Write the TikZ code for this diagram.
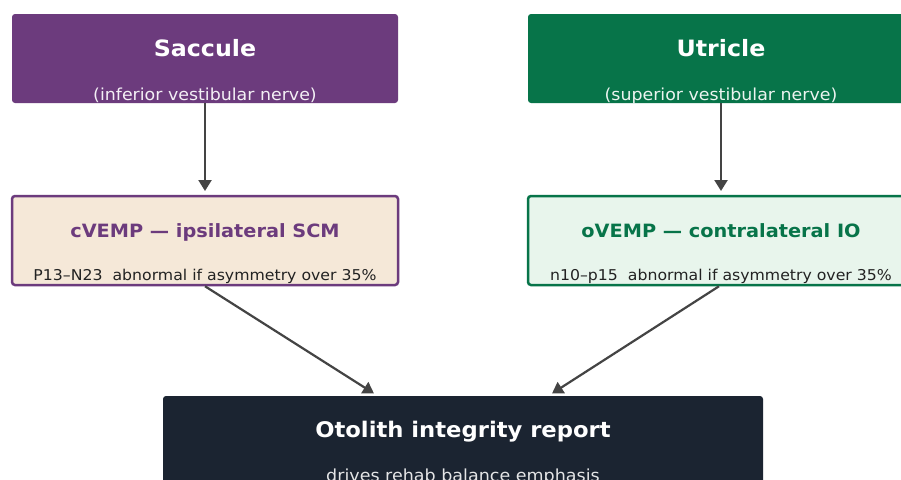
\documentclass[tikz,border=0pt]{standalone}
\usepackage{fontspec}
\setmainfont{DejaVu Sans}[FakeStretch=1.055]
\usetikzlibrary{arrows.meta}
\definecolor{saccfill}{HTML}{6C3B7D}
\definecolor{utrfill}{HTML}{077449}
\definecolor{sacclight}{HTML}{F5E8D8}
\definecolor{utrlight}{HTML}{E8F5EC}
\definecolor{reportfill}{HTML}{1B2431}
\definecolor{arrowgray}{HTML}{444444}
\definecolor{bodytext}{HTML}{222222}
\tikzset{
  panel/.style={rectangle, rounded corners=3pt, minimum width=386pt, minimum height=89pt, inner sep=0pt},
  headline/.style={anchor=base, inner sep=0pt, font=\fontsize{22.5}{26}\selectfont\bfseries},
  subline/.style={anchor=base, inner sep=0pt, font=\fontsize{16.5}{19}\selectfont},
  testhead/.style={anchor=base, inner sep=0pt, font=\fontsize{18.3}{22}\selectfont\bfseries},
  testline/.style={anchor=base, inner sep=0pt, font=\fontsize{14.9}{18}\selectfont, text=bodytext},
  link/.style={draw=arrowgray, line width=2.2pt, -{Triangle[length=11pt,width=13pt]}}
}
\begin{document}
\begin{tikzpicture}[x=1pt,y=-1pt]
\useasboundingbox (0,0) rectangle (901,479);
\clip (0,0) rectangle (901,479);
\fill[white] (0,0) rectangle (901,479);

% end organs
\node[panel, fill=saccfill] (sac) at (205,58.5) {};
\node[panel, fill=utrfill] (utr) at (721,58.5) {};
\node[headline, text=white] (sact) at (205,56) {Saccule};
\node[subline, text=white!92!saccfill] (sacs) at (205,100) {(inferior vestibular nerve)};
\node[headline, text=white] (utrt) at (721,56) {Utricle};
\node[subline, text=white!92!utrfill] (utrs) at (721,100) {(superior vestibular nerve)};

% VEMP tests
\node[panel, fill=sacclight, draw=saccfill, line width=2.5pt] (cv) at (205,240.5) {};
\node[panel, fill=utrlight, draw=utrfill, line width=2.5pt] (ov) at (721,240.5) {};
\node[testhead, text=saccfill] (cvt) at (205,237) {cVEMP — ipsilateral SCM};
\node[testline] (cvs) at (205,280.5) {P13–N23\ \ abnormal if asymmetry over 35\%};
\node[testhead, text=utrfill] (ovt) at (721,237) {oVEMP — contralateral IO};
\node[testline] (ovs) at (721,280.5) {n10–p15\ \ abnormal if asymmetry over 35\%};

% summary
\node[rectangle, rounded corners=3pt, minimum width=600pt, minimum height=89pt, inner sep=0pt, fill=reportfill] (rep) at (463,440.5) {};
\node[headline, font=\fontsize{21.5}{25}\selectfont\bfseries, text=white] (rept) at (463,437) {Otolith integrity report};
\node[subline, font=\fontsize{16.6}{19}\selectfont, text=white!88!reportfill] (reps) at (463,481) {drives rehab balance emphasis};

% connectors
\coordinate (sacend) at (205,191);
\coordinate (utrend) at (721,191);
\coordinate (cvend) at (374,393.5);
\coordinate (ovend) at (552,393.5);
\draw[link] (sac.south) -- (sacend);
\draw[link] (utr.south) -- (utrend);
\draw[link] (cv.south) -- (cvend);
\draw[link] ([xshift=-2pt]ov.south) -- (ovend);
\end{tikzpicture}
\end{document}
